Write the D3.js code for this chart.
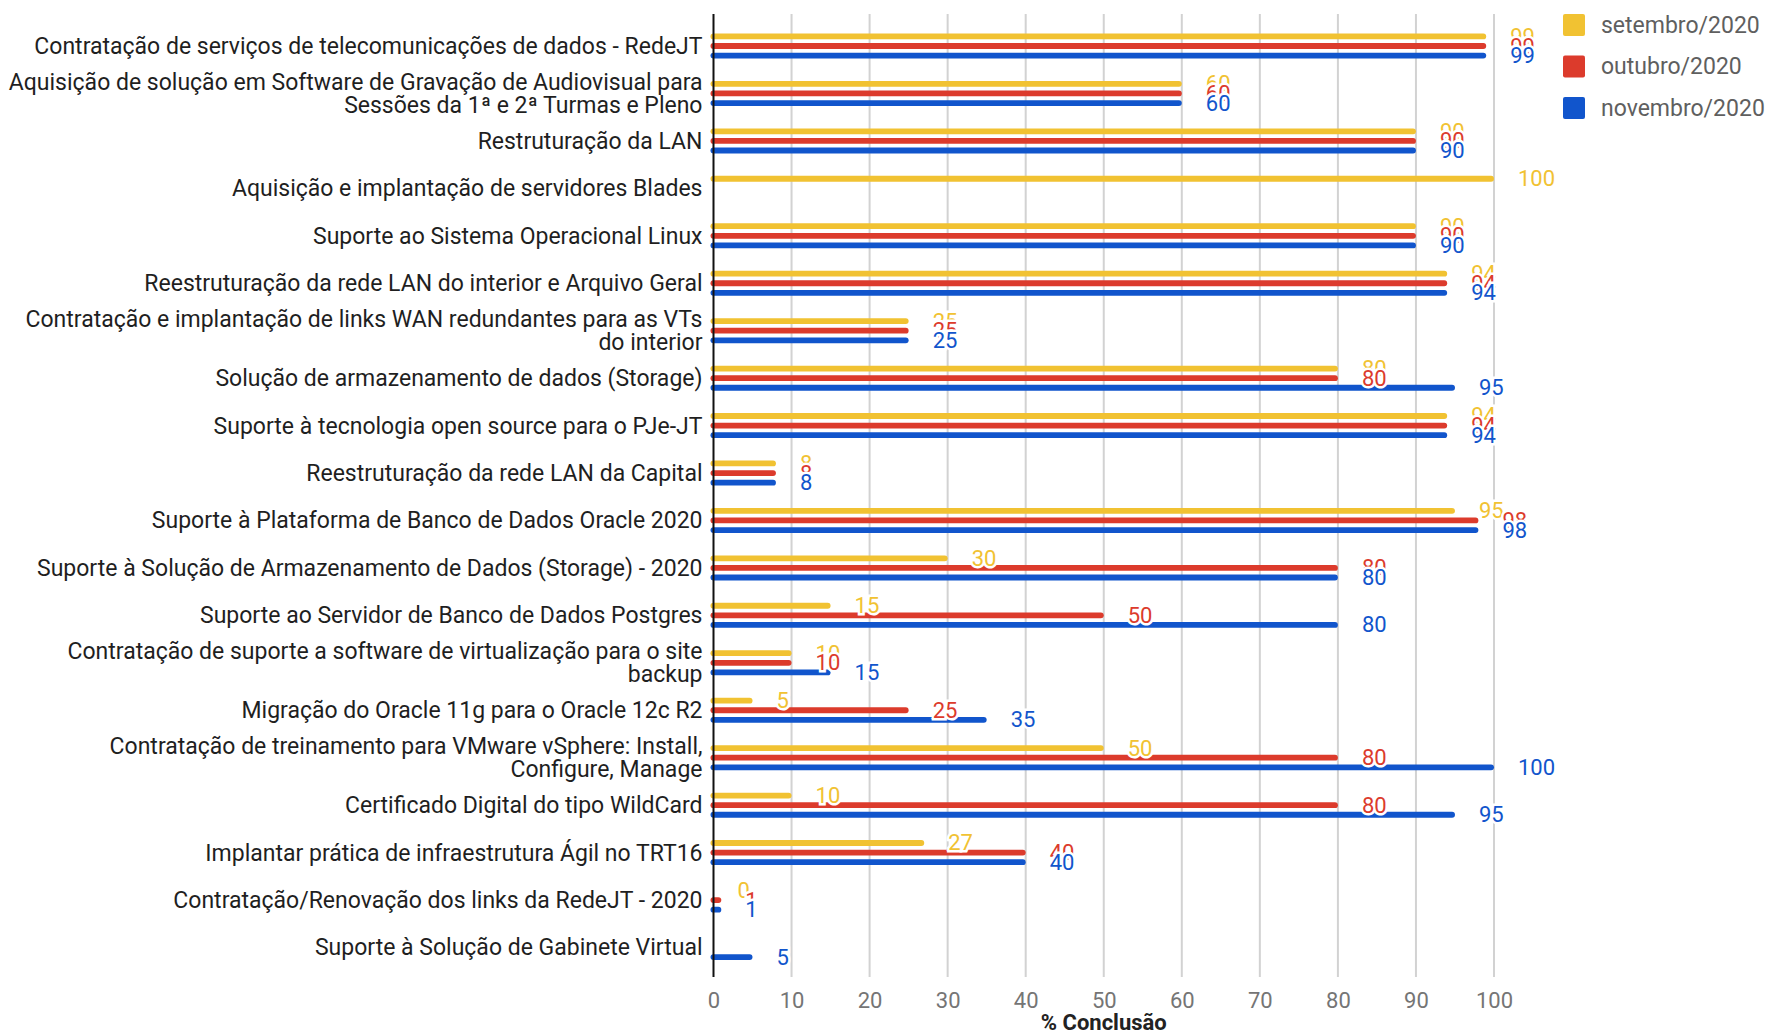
<!DOCTYPE html>
<html>
<head>
<meta charset="utf-8">
<script src="https://cdn.jsdelivr.net/npm/d3@7"></script>
<style>
  body { margin: 0; background: #fff; }
  svg { display: block; font-family: Roboto, "Noto Sans", sans-serif; }
</style>
</head>
<body>
<svg id="chart" width="1766" height="1033"></svg>
<script>
// Projects and % completion per month
const categories = [
  'Contratação de serviços de telecomunicações de dados - RedeJT',
  'Aquisição de solução em Software de Gravação de Audiovisual para\nSessões da 1ª e 2ª Turmas e Pleno',
  'Restruturação da LAN',
  'Aquisição e implantação de servidores Blades',
  'Suporte ao Sistema Operacional Linux',
  'Reestruturação da rede LAN do interior e Arquivo Geral',
  'Contratação e implantação de links WAN redundantes para as VTs\ndo interior',
  'Solução de armazenamento de dados (Storage)',
  'Suporte à tecnologia open source para o PJe-JT',
  'Reestruturação da rede LAN da Capital',
  'Suporte à Plataforma de Banco de Dados Oracle 2020',
  'Suporte à Solução de Armazenamento de Dados (Storage) - 2020',
  'Suporte ao Servidor de Banco de Dados Postgres',
  'Contratação de suporte a software de virtualização para o site\nbackup',
  'Migração do Oracle 11g para o Oracle 12c R2',
  'Contratação de treinamento para VMware vSphere: Install,\nConfigure, Manage',
  'Certificado Digital do tipo WildCard',
  'Implantar prática de infraestrutura Ágil no TRT16',
  'Contratação/Renovação dos links da RedeJT - 2020',
  'Suporte à Solução de Gabinete Virtual'
];

const seriesNames = ['setembro/2020', 'outubro/2020', 'novembro/2020'];
const seriesColors = ['#f1c232', '#dc3b2c', '#1155cc'];

const setembro = [99, 60, 90, 100, 90, 94, 25, 80, 94, 8, 95, 30, 15, 10, 5, 50, 10, 27, 0, null];
const outubro  = [99, 60, 90, null, 90, 94, 25, 80, 94, 8, 98, 80, 50, 10, 25, 80, 80, 40, 1, null];
const novembro = [99, 60, 90, null, 90, 94, 25, 95, 94, 8, 98, 80, 80, 15, 35, 100, 95, 40, 1, 5];

const xTicks = [0, 10, 20, 30, 40, 50, 60, 70, 80, 90, 100];

const seriesValues = [setembro, outubro, novembro];

const svg = d3.select('#chart');
const plotTop = 14, plotBottom = 977;

const x = d3.scaleLinear().domain([0, 100]).range([713.5, 1494]);
const y = d3.scaleBand().domain(categories).range([22.3, 971.2]);
const sub = d3.scaleBand().domain(seriesNames).range([-14.4, 14.4]);

// Gridlines
svg.append('g')
  .selectAll('line')
  .data(xTicks.slice(1))
  .join('line')
  .attr('x1', d => x(d)).attr('x2', d => x(d))
  .attr('y1', plotTop).attr('y2', plotBottom)
  .attr('stroke', '#d2d2d2')
  .attr('stroke-width', 2);

// Bars
const barH = 5.8;
seriesNames.forEach((name, s) => {
  const rows = categories.map((c, i) => ({ c, v: seriesValues[s][i] }))
    .filter(d => d.v !== null && d.v > 0);
  svg.append('g')
    .selectAll('rect')
    .data(rows)
    .join('rect')
    .attr('x', x(0) - 3)
    .attr('y', d => y(d.c) + y.bandwidth() / 2 + sub(name) + sub.bandwidth() / 2 - barH / 2)
    .attr('width', d => x(d.v) - x(0) + 3)
    .attr('height', barH)
    .attr('rx', barH / 2)
    .attr('fill', seriesColors[s]);
});

// Axis line
svg.append('line')
  .attr('x1', x(0)).attr('x2', x(0))
  .attr('y1', plotTop).attr('y2', plotBottom)
  .attr('stroke', '#111')
  .attr('stroke-width', 2);

// Value annotations (series drawn in order, white halo overlaps)
seriesNames.forEach((name, s) => {
  const rows = categories.map((c, i) => ({ c, v: seriesValues[s][i] }))
    .filter(d => d.v !== null);
  svg.append('g')
    .selectAll('text')
    .data(rows)
    .join('text')
    .attr('x', d => x(d.v) + 24)
    .attr('y', d => y(d.c) + y.bandwidth() / 2 + sub(name) + sub.bandwidth() / 2)
    .attr('dominant-baseline', 'central')
    .attr('font-size', 22)
    .attr('fill', seriesColors[s])
    .attr('stroke', '#fff')
    .attr('stroke-width', 5)
    .attr('paint-order', 'stroke')
    .text(d => d.v);
});

// Category axis
const yAxis = svg.append('g')
  .attr('transform', `translate(${x(0)},0)`)
  .call(d3.axisLeft(y).tickSize(0).tickPadding(11));
yAxis.select('.domain').remove();
yAxis.selectAll('text')
  .attr('font-size', 23)
  .attr('font-family', 'Roboto, sans-serif')
  .attr('fill', '#1f1f1f')
  .attr('dy', null)
  .each(function(d) {
    const lines = d.split('\n');
    const t = d3.select(this).text(null).attr('dominant-baseline', 'central');
    lines.forEach((ln, k) => {
      t.append('tspan')
        .attr('x', -11)
        .attr('dy', k === 0 ? (-(lines.length - 1) * 23 / 2) : 23)
        .text(ln);
    });
  });

// Value axis ticks
const xAxis = svg.append('g')
  .attr('transform', `translate(0,${plotBottom})`)
  .call(d3.axisBottom(x).tickValues(xTicks).tickSize(0));
xAxis.select('.domain').remove();
xAxis.selectAll('text')
  .attr('y', 23)
  .attr('dy', null)
  .attr('dominant-baseline', 'central')
  .attr('font-size', 22)
  .attr('font-family', 'Roboto, sans-serif')
  .attr('fill', '#757575');

svg.append('text')
  .attr('x', (x(0) + x(100)) / 2)
  .attr('y', 1022)
  .attr('text-anchor', 'middle')
  .attr('dominant-baseline', 'central')
  .attr('font-size', 22)
  .attr('font-weight', 'bold')
  .attr('fill', '#222')
  .text('% Conclusão');

// Legend
const legend = svg.append('g')
  .selectAll('g')
  .data(seriesNames)
  .join('g')
  .attr('transform', (d, i) => `translate(1563,${25 + i * 41.5})`);
legend.append('rect')
  .attr('x', 0).attr('y', -11)
  .attr('width', 22).attr('height', 22)
  .attr('rx', 2)
  .attr('fill', (d, i) => seriesColors[i]);
legend.append('text')
  .attr('x', 38)
  .attr('dominant-baseline', 'central')
  .attr('font-size', 23)
  .attr('fill', '#5f5f5f')
  .text(d => d);
</script>
</body>
</html>
